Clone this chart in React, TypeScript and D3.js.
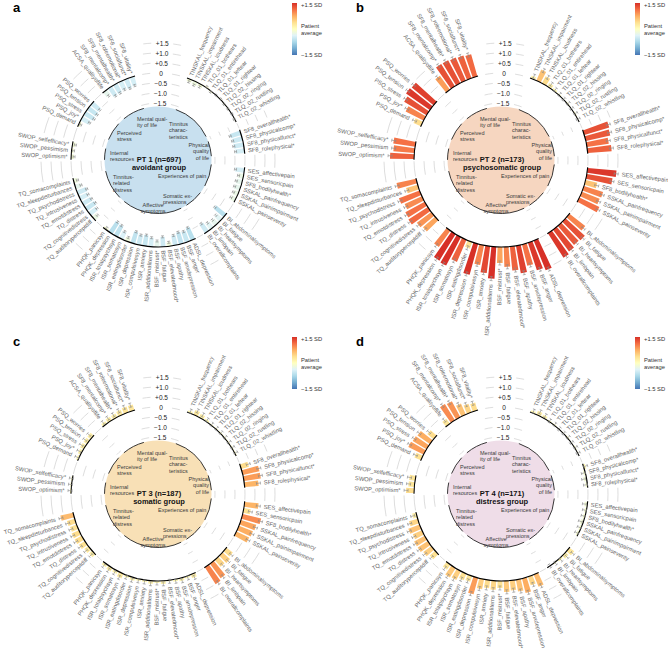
import React from "react";
import * as d3 from "d3";

// ---------- data ----------
const tinnitusVars = ["TINSKAL_frequency", "TINSKAL_impairment", "TINSKAL_loudness", "TLQ_01_bothears", "TLQ_01_entirehead", "TLQ_01_leftear", "TLQ_01_rightear", "TLQ_02_hissing", "TLQ_02_ringing", "TLQ_02_rustling", "TLQ_02_whistling"];
const physicalVars = ["SF8_overallhealth*", "SF8_physicalcomp*", "SF8_physicalfunct*", "SF8_rolephysical*"];
const painVars = ["SES_affectivepain", "SES_sensoricpain", "SF8_bodilyhealth*", "SSKAL_painfrequency", "SSKAL_painimpairment", "SSKAL_painseverity"];
const somaticVars = ["BI_abdominalsymptoms", "BI_fatigue", "BI_heartsymptoms", "BI_limbpain", "BI_overallcomplaints"];
const affectiveVars = ["ADSL_depression", "BSF_anger", "BSF_anxdepression", "BSF_apathy", "BSF_elevatedmood*", "BSF_fatigue", "BSF_mistrust*", "ISR_additionalitems", "ISR_anxiety", "ISR_compulsivesyn", "ISR_depression", "ISR_eatingdisorder", "ISR_somatosyn", "ISR_totalpsychsyn", "PHQK_depression", "PHQK_panicsyn"];
const tqVars = ["TQ_auditoryperceptdiff", "TQ_cognitivedistress", "TQ_distress", "TQ_emotdistress", "TQ_intrusiveness", "TQ_psychodistress", "TQ_sleepdisturbances", "TQ_somacomplaints"];
const resourceVars = ["SWOP_optimism*", "SWOP_pessimism", "SWOP_selfefficacy*"];
const stressVars = ["PSQ_demand", "PSQ_joy*", "PSQ_stress", "PSQ_tension", "PSQ_worries"];
const mentalVars = ["ACSA_qualityoflife", "SF8_mentalcomp*", "SF8_mentalhealth*", "SF8_roleemotional*", "SF8_socialfunct*", "SF8_vitality*"];

const groupVars = [tinnitusVars, physicalVars, painVars, somaticVars, affectiveVars, tqVars, resourceVars, stressVars, mentalVars];
const groupLabels = [
  ["Tinnitus", "charac-", "teristics"],
  ["Physical", "quality", "of life"],
  ["Experiences of pain"],
  ["Somatic ex-", "pressions"],
  ["Affective", "symptoms"],
  ["Tinnitus-", "related", "distress"],
  ["Internal", "resources"],
  ["Perceived", "stress"],
  ["Mental qual-", "ity of life"],
];

// standardized group means (SD units), same order as groupVars flattened
const pt1Values = [
  -0.15, -0.2, -0.15, 0.05, -0.05, 0, 0.02, -0.03, -0.02, 0, -0.03,
  -0.55, -0.5, -0.5, -0.45,
  -0.45, -0.25, -0.3, -0.3, -0.25, -0.25,
  -0.65, -0.35, -0.3, -0.35, -0.5,
  -0.65, -0.55, -0.6, -0.5, -0.2, -0.5, -0.3, -0.45, -0.55, -0.5, -0.6, -0.2, -0.4, -0.6, -0.65, -0.1,
  -0.25, -0.45, -0.55, -0.5, -0.45, -0.5, -0.3, -0.2,
  -0.15, -0.1, -0.15,
  -0.1, -0.45, -0.55, -0.55, -0.5,
  -0.3, -0.5, -0.5, -0.45, -0.5, -0.45,
];
const pt2Values = [
  0.15, 0.6, 0.4, 0.2, 0.1, 0.05, 0.02, 0.05, 0.02, 0.05, 0.02,
  1.3, 1.25, 1.1, 1.2,
  1.45, 1.3, 0.6, 1.0, 0.95, 1.1,
  1.0, 1.3, 1.25, 1.35, 1.45,
  1.6, 1.45, 1.1, 1.4, 1.2, 1.0, 0.8, 1.6, 1.35, 1.0, 1.6, 0.35, 1.2, 1.6, 1.55, 1.0,
  0.8, 0.9, 1.15, 1.1, 0.95, 1.1, 0.6, 1.0,
  1.2, 1.05, 1.1,
  0.4, 1.0, 1.3, 1.45, 1.4,
  0.85, 1.3, 1.3, 1.25, 1.2, 1.15,
];
const pt3Values = [
  0.1, 0.25, 0.2, 0.1, 0.05, 0.05, 0.05, 0.05, 0.05, 0.05, 0.05,
  0.4, 0.85, 0.85, 0.7,
  0.7, 0.35, 0.95, 0.8, 0.75, 0.7,
  0.4, 0.5, 0.45, 0.9, 1.0,
  0.2, 0.1, 0.15, 0.1, 0.05, 0.15, 0.1, 0.15, 0.1, 0.1, 0.15, 0.1, 0.25, 0.15, 0.2, 0.15,
  0.2, 0.25, 0.35, 0.4, 0.4, 0.35, 0.4, 0.65,
  0.05, 0.05, 0.05,
  0.1, 0.15, 0.2, 0.2, 0.2,
  0.15, 0.2, 0.2, 0.25, 0.3, 0.3,
];
const pt4Values = [
  0.1, 0.2, 0.15, 0.05, 0.05, 0.02, 0.02, 0.05, 0.02, 0.05, 0.02,
  0.1, -0.1, -0.15, -0.1,
  -0.15, -0.1, -0.1, -0.15, -0.1, -0.1,
  0.3, 0.2, 0.1, 0.05, 0.0,
  0.65, 0.45, 0.75, 0.6, 0.5, 0.55, 0.35, 0.45, 0.4, 0.5, 0.85, 0.3, 0.35, 0.5, 0.55, 0.3,
  0.35, 0.5, 0.6, 0.6, 0.5, 0.6, 0.45, 0.2,
  0.4, 0.3, 0.3,
  0.35, 0.85, 0.8, 0.75, 0.4,
  0.3, 0.95, 0.9, 0.6, 0.45, 0.4,
];
const panelValues = [pt1Values, pt2Values, pt3Values, pt4Values];
const ciHalfWidth = [0.05, 0.1, 0.1, 0.1];
const panelLetters = ["a", "b", "c", "d"];
const panelTitles = ["PT 1 (n=697)", "PT 2 (n=173)", "PT 3 (n=187)", "PT 4 (n=171)"];
const panelNames = ["avoidant group", "psychosomatic group", "somatic group", "distress group"];
const scaleTicks = [1.5, 1.0, 0.5, 0, -0.5, -1.0, -1.5];
const scaleTickLabels = ["+1.5", "+1.0", "+0.5", "0", "\u22120.5", "\u22121.0", "\u22121.5"];
const legendLabels = ["+1.5 SD", "Patient", "average", "\u22121.5 SD"];

// ---------- layout ----------
const W = 668;
const H = 656;
const panelOrigins = [[0, 0], [343, 0], [0, 334], [343, 334]];
const CX = 158;
const CY = 160;
const centerFills = ["#c8e0ef", "#f6d6c0", "#f8e0b6", "#efdde8"];
const SLOT_DEG = 4.05;
const START_DEG = 21.5;
const GAP_SLOTS = [2.4, 3.2, 3.1, 2.6, 2.6, 4.0, 3.5, 2.9];
const R_INNER = 53.5;
const BAR_FRAC = 0.78;
const FONT = "'Liberation Sans', Arial, Helvetica, sans-serif";
// inner group label placement relative to centre
const innerLabelX = [11, 51, 0, 5, -5, -45, -48, -41, -21];
const innerLabelY = [-34, -13, 18, 38, 47, 19, -5, -25, -39];
const innerLabelAnchor = ["start", "end", "start", "start", "middle", "start", "start", "start", "start"];

const rScale = d3.scaleLinear().domain([-1.5, 1.5]).range([57, 117]);
const palette = d3.schemeRdYlBu[9];
const colorScale = d3
  .scaleLinear<string>()
  .domain(d3.range(9).map((i) => 1.5 - (i * 3) / 8))
  .range(palette as string[])
  .clamp(true);

// slot positions
const allVars: string[] = [];
const varGroup: number[] = [];
const slotPos: number[] = [];
{
  let p = 0;
  groupVars.forEach((vars, g) => {
    if (g > 0) p += GAP_SLOTS[g - 1] - 1;
    vars.forEach((v) => {
      allVars.push(v);
      varGroup.push(g);
      slotPos.push(p);
      p += 1;
    });
  });
}
const angleScale = d3.scaleLinear().domain([0, 1]).range([START_DEG, START_DEG + SLOT_DEG]);
const toRad = (deg: number) => (deg * Math.PI) / 180;

const groupFirst = groupVars.map((_, g) => slotPos[varGroup.indexOf(g)]);
const groupLast = groupVars.map((_, g) => slotPos[varGroup.lastIndexOf(g)]);

function arcLine(radius: number, a0: number, a1: number) {
  const p = d3.path();
  p.arc(0, 0, radius, a0 - Math.PI / 2, a1 - Math.PI / 2);
  return p.toString();
}

const arcGen = d3.arc<any>();

function Panel({ idx }: { idx: number }) {
  const [ox, oy] = panelOrigins[idx];
  const values = panelValues[idx];
  const ci = ciHalfWidth[idx];
  const r0 = rScale(0);
  const hw = toRad((SLOT_DEG * BAR_FRAC) / 2);

  const gridArcs: JSX.Element[] = [];
  for (let g = 0; g < groupVars.length - 1; g++) {
    const a0 = toRad(angleScale(groupLast[g] + 0.75));
    const a1 = toRad(angleScale(groupFirst[g + 1] - 0.75));
    scaleTicks.forEach((t, k) => {
      gridArcs.push(<path key={`g${g}-${k}`} d={arcLine(rScale(t), a0, a1)} fill="none" stroke="#cfcfcf" strokeWidth={0.7} />);
    });
  }
  const topDeg = (angleScale(groupLast[groupVars.length - 1]) + 360 + START_DEG) / 2;
  const topRad = toRad(topDeg);
  const topDash: JSX.Element[] = [];
  scaleTicks.forEach((t, k) => {
    const rr = rScale(t);
    const d0 = 11 / rr;
    const d1 = 19 / rr;
    topDash.push(<path key={`tl${k}`} d={arcLine(rr, topRad - d1, topRad - d0)} fill="none" stroke="#cfcfcf" strokeWidth={0.7} />);
    topDash.push(<path key={`tr${k}`} d={arcLine(rr, topRad + d0, topRad + d1)} fill="none" stroke="#cfcfcf" strokeWidth={0.7} />);
  });

  return (
    <g transform={`translate(${ox},${oy})`}>
      <text x={13} y={12} fontSize={13} fontWeight="bold" fill="#000">
        {panelLetters[idx]}
      </text>
      <rect x={292} y={3} width={5} height={52} fill="url(#legendGrad)" />
      <text x={301} y={7} fontSize={5.8} fill="#333">{legendLabels[0]}</text>
      <text x={301} y={28} fontSize={5.8} fill="#333">{legendLabels[1]}</text>
      <text x={301} y={35} fontSize={5.8} fill="#333">{legendLabels[2]}</text>
      <text x={301} y={57} fontSize={5.8} fill="#333">{legendLabels[3]}</text>

      <g transform={`translate(${CX},${CY})`}>
        <circle r={R_INNER} fill={centerFills[idx]} />
        {groupVars.map((_, g) => (
          <path
            key={`in${g}`}
            d={arcLine(R_INNER, toRad(angleScale(groupFirst[g] - 0.5)), toRad(angleScale(groupLast[g] + 0.5)))}
            fill="none"
            stroke="#222"
            strokeWidth={0.9}
          />
        ))}
        {gridArcs}
        {topDash}
        {scaleTicks.map((t, k) => (
          <text key={`st${k}`} x={Math.sin(topRad) * rScale(t)} y={-rScale(t)} fontSize={6.5} fill="#222" textAnchor="middle" dominantBaseline="central">
            {scaleTickLabels[k]}
          </text>
        ))}
        {values.map((v, i) => {
          const a = toRad(angleScale(slotPos[i]));
          const rv = rScale(v);
          return (
            <path
              key={`b${i}`}
              d={arcGen({ innerRadius: Math.min(r0, rv), outerRadius: Math.max(r0, rv), startAngle: a - hw, endAngle: a + hw }) || ""}
              fill={colorScale(v)}
            />
          );
        })}
        {groupVars.map((_, g) => (
          <path
            key={`ba${g}`}
            d={arcLine(r0, toRad(angleScale(groupFirst[g] - 0.5)), toRad(angleScale(groupLast[g] + 0.5)))}
            fill="none"
            stroke="#000"
            strokeWidth={1.1}
          />
        ))}
        {values.map((v, i) => {
          const deg = angleScale(slotPos[i]);
          const lo = rScale(v - ci);
          const hi = rScale(v + ci);
          const lr = rScale(Math.max(v + ci, 0)) + 3.5;
          const right = deg % 360 < 180;
          return (
            <g key={`e${i}`} transform={`rotate(${deg - 90})`}>
              <line x1={lo} x2={hi} y1={0} y2={0} stroke="#8a8a8a" strokeWidth={0.6} />
              <line x1={lo} x2={lo} y1={-1.5} y2={1.5} stroke="#8a8a8a" strokeWidth={0.6} />
              <line x1={hi} x2={hi} y1={-1.5} y2={1.5} stroke="#8a8a8a" strokeWidth={0.6} />
              {right ? (
                <text x={lr} y={0} fontSize={5.8} fill="#666" dominantBaseline="central" textAnchor="start">
                  {allVars[i]}
                </text>
              ) : (
                <text transform={`translate(${lr},0) rotate(180)`} fontSize={5.8} fill="#666" dominantBaseline="central" textAnchor="end">
                  {allVars[i]}
                </text>
              )}
            </g>
          );
        })}
        {groupLabels.map((lines, g) =>
          lines.map((ln, j) => (
            <text key={`il${g}-${j}`} x={innerLabelX[g]} y={innerLabelY[g] + j * 6.3} fontSize={5.5} fill="#3a3a3a" textAnchor={innerLabelAnchor[g]}>
              {ln}
            </text>
          ))
        )}
        <text x={1} y={1.5} fontSize={7.5} fontWeight="bold" fill="#111" textAnchor="middle">
          {panelTitles[idx]}
        </text>
        <text x={1} y={9.5} fontSize={7.5} fontWeight="bold" fill="#111" textAnchor="middle">
          {panelNames[idx]}
        </text>
      </g>
    </g>
  );
}

export default function App() {
  return (
    <svg
      width={W}
      height={H}
      viewBox={`0 0 ${W} ${H}`}
      style={{ position: "absolute", left: 0, top: 0, background: "#fff", fontFamily: FONT }}
    >
      <defs>
        <linearGradient id="legendGrad" x1="0" y1="0" x2="0" y2="1">
          {palette.map((c, i) => (
            <stop key={i} offset={`${(i / (palette.length - 1)) * 100}%`} stopColor={c} />
          ))}
        </linearGradient>
      </defs>
      <rect width={W} height={H} fill="#fff" />
      {[0, 1, 2, 3].map((i) => (
        <Panel key={i} idx={i} />
      ))}
    </svg>
  );
}
